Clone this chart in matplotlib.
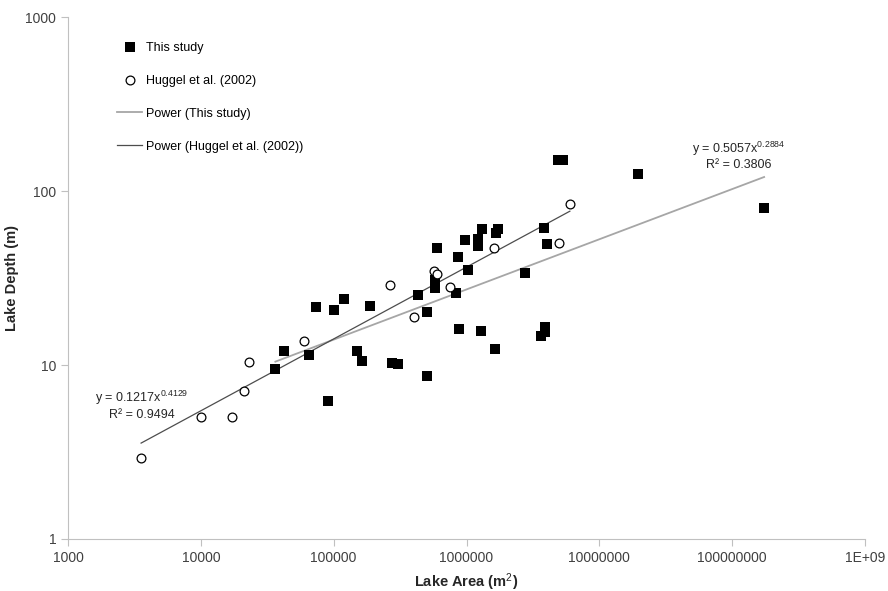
#!/usr/bin/env python3

import numpy as np
import matplotlib.pyplot as plt

plt.rcParams['font.family'] = ['Liberation Sans', 'DejaVu Sans']
plt.rcParams['mathtext.fontset'] = 'custom'
plt.rcParams['mathtext.rm'] = 'Liberation Sans'
plt.rcParams['mathtext.it'] = 'Liberation Sans'

# lake area (m2) and depth (m), this study
study_area = [3.64e4, 4.2e4, 6.5e4, 7.4e4, 9.0e4, 1.0e5, 1.19e5, 1.51e5, 1.63e5, 1.88e5,
              2.73e5, 3.03e5, 4.35e5, 5.05e5, 5.05e5, 5.83e5, 5.83e5, 5.83e5, 6.04e5, 8.3e5,
              8.7e5, 8.8e5, 9.8e5, 1.02e6, 1.22e6, 1.23e6, 1.28e6, 1.31e6, 1.64e6, 1.66e6,
              1.72e6, 2.77e6, 3.65e6, 3.86e6, 3.91e6, 3.91e6, 4.07e6, 4.9e6, 5.3e6, 1.97e7,
              1.74e8]
study_depth = [9.5, 12.0, 11.4, 21.5, 6.2, 20.6, 23.9, 12.1, 10.6, 21.8,
               10.3, 10.1, 25.3, 20.2, 8.7, 31.0, 29.0, 27.6, 47.2, 26.0,
               41.9, 16.0, 52.3, 35.3, 52.8, 48.5, 15.7, 60.2, 12.4, 57.1,
               60.5, 33.6, 14.7, 61.5, 16.6, 15.5, 49.8, 150, 151, 126,
               80]

# Huggel et al. (2002)
huggel_area = [3.55e3, 1.0e4, 1.72e4, 2.11e4, 2.32e4, 5.98e4, 2.66e5, 4.03e5, 5.7e5, 6.0e5,
               7.5e5, 1.61e6, 5.0e6, 6.0e6]
huggel_depth = [2.92, 5.0, 5.0, 7.1, 10.4, 13.7, 28.7, 18.9, 34.7, 33.5,
                28.1, 47.2, 50.5, 84]

# power fits y = a * x^b, with R2
study_fit = (0.5057, 0.2884, 0.3806)
huggel_fit = (0.1217, 0.4129, 0.9494)

xticks = [1e3, 1e4, 1e5, 1e6, 1e7, 1e8, 1e9]
xtick_labels = ['1000', '10000', '100000', '1000000', '10000000', '100000000', '1E+09']
yticks = [1, 10, 100, 1000]
ytick_labels = ['1', '10', '100', '1000']

fig = plt.figure(figsize=(8.88, 5.91), dpi=100)
ax = fig.add_axes([0.0766, 0.088, 0.8975, 0.8832])

ax.scatter(study_area, study_depth, marker='s', s=48, color='black', linewidths=0,
           label='This study', zorder=3)
ax.scatter(huggel_area, huggel_depth, marker='o', s=40, facecolors='white',
           edgecolors='black', linewidths=0.9, label='Huggel et al. (2002)', zorder=3)

xs = np.geomspace(min(study_area), max(study_area), 200)
ax.plot(xs, study_fit[0] * xs ** study_fit[1], color='#a6a6a6', lw=1.3,
        label='Power (This study)', zorder=2)
xh = np.geomspace(min(huggel_area), max(huggel_area), 200)
ax.plot(xh, huggel_fit[0] * xh ** huggel_fit[1], color='#4d4d4d', lw=0.9,
        label='Power (Huggel et al. (2002))', zorder=2)

ax.set_xscale('log')
ax.set_yscale('log')
ax.set_xlim(1e3, 1e9)
ax.set_ylim(1, 1000)
ax.set_xticks(xticks, xtick_labels)
ax.set_yticks(yticks, ytick_labels)
ax.minorticks_off()

for side in ['top', 'right']:
    ax.spines[side].set_visible(False)
for side in ['left', 'bottom']:
    ax.spines[side].set_color('#c0c0c0')
ax.tick_params(colors='#c0c0c0', labelcolor='#404040', labelsize=10, length=5, width=0.8)
ax.tick_params(axis='x', pad=4)

ax.set_xlabel('Lake Area (m$^{\\mathrm{2}}$)', fontsize=10.5, fontweight='bold',
              color='#262626', labelpad=4)
ax.set_ylabel('Lake Depth (m)', fontsize=10.5, fontweight='bold', color='#262626')
ax.yaxis.set_label_coords(-0.062, 0.5)

ax.text(0.841, 0.748, 'y = %.4fx$^{%.4f}$' % (study_fit[0], study_fit[1]),
        transform=ax.transAxes, ha='center', va='center', fontsize=9, color='#262626')
ax.text(0.841, 0.716, 'R² = %.4f' % study_fit[2],
        transform=ax.transAxes, ha='center', va='center', fontsize=9, color='#262626')
ax.text(0.093, 0.27, 'y = %.4fx$^{%.4f}$' % (huggel_fit[0], huggel_fit[1]),
        transform=ax.transAxes, ha='center', va='center', fontsize=9, color='#262626')
ax.text(0.093, 0.238, 'R² = %.4f' % huggel_fit[2],
        transform=ax.transAxes, ha='center', va='center', fontsize=9, color='#262626')

ax.legend(loc='upper left', bbox_to_anchor=(0.062, 0.953), frameon=False, fontsize=9,
          labelspacing=1.68, handlelength=2.0, handletextpad=0.3, borderaxespad=0,
          borderpad=0)

fig.savefig('out.png', dpi=100)
